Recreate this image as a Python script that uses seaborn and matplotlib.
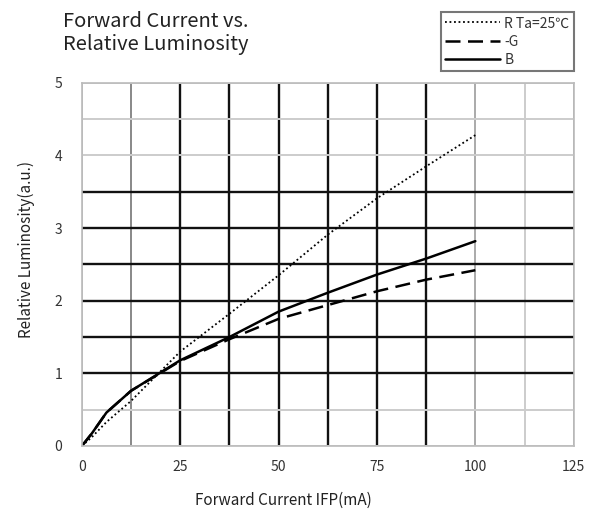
import matplotlib
matplotlib.use("Agg")
import matplotlib.pyplot as plt
import pandas as pd
import seaborn as sns

# values
current = [0, 2.5, 6.25, 12.5, 25, 37.5, 50, 62.5, 75, 87.5, 100]
lum_r = [0, 0.12, 0.33, 0.62, 1.30, 1.82, 2.35, 2.91, 3.41, 3.85, 4.28]
lum_g = [0, 0.17, 0.46, 0.76, 1.17, 1.47, 1.75, 1.94, 2.13, 2.29, 2.42]
lum_b = [0, 0.17, 0.46, 0.76, 1.18, 1.50, 1.85, 2.11, 2.36, 2.58, 2.82]
series_labels = ["R Ta=25\u2103", "-G", "B"]
x_ticks = [0, 12.5, 25, 37.5, 50, 62.5, 75, 87.5, 100, 112.5, 125]
y_ticks = [0, 0.5, 1, 1.5, 2, 2.5, 3, 3.5, 4, 4.5, 5]

sns.set_theme(style="white")
plt.rcParams['font.family'] = ['Noto Sans CJK JP', 'DejaVu Sans']

fig = plt.figure(figsize=(6.02, 5.21), dpi=100)
ax = fig.add_axes([0.136, 0.144, 0.817, 0.697])

df = pd.DataFrame({"I": current, "R": lum_r, "G": lum_g, "B": lum_b})
sns.lineplot(data=df, x="I", y="R", ax=ax, color="black", linestyle=(0, (1, 1.5)), linewidth=1.3, label=series_labels[0])
sns.lineplot(data=df, x="I", y="G", ax=ax, color="black", linestyle=(0, (6, 3)), linewidth=1.8, label=series_labels[1])
sns.lineplot(data=df, x="I", y="B", ax=ax, color="black", linestyle="-", linewidth=1.8, label=series_labels[2])

ax.set_xlim(0, 125)
ax.set_ylim(0, 5)
ax.set_xticks(x_ticks)
ax.set_xticklabels([f"{int(v)}" if v % 25 == 0 else "" for v in x_ticks])
ax.set_yticks(y_ticks)
ax.set_yticklabels([f"{int(v)}" if v % 1 == 0 else "" for v in y_ticks])
ax.tick_params(axis="both", length=0, labelsize=10, labelcolor="#333333")
ax.tick_params(axis="x", pad=10)
ax.tick_params(axis="y", pad=14)

ax.grid(True)
x_cols = ["#bbbbbb", "#888888", "#111111", "#111111", "#111111", "#111111",
          "#111111", "#111111", "#aaaaaa", "#cccccc", "#aaaaaa"]
y_cols = ["#cccccc", "#cccccc", "#111111", "#111111", "#111111", "#111111",
          "#111111", "#111111", "#cccccc", "#cccccc", "#cccccc"]
for line, c in zip(ax.get_xgridlines(), x_cols):
    line.set_color(c)
    line.set_linewidth(1.7 if c == "#111111" else 1.4)
for line, c in zip(ax.get_ygridlines(), y_cols):
    line.set_color(c)
    line.set_linewidth(1.7 if c == "#111111" else 1.4)
ax.set_axisbelow(True)
for s in ax.spines.values():
    s.set_color("#bbbbbb")
    s.set_linewidth(1.2)

ax.set_xlabel("Forward Current IFP(mA)", fontsize=11, color="#222222")
ax.xaxis.set_label_coords(0.41, -0.125)
ax.set_ylabel("Relative Luminosity(a.u.)", fontsize=11, color="#222222")
ax.yaxis.set_label_coords(-0.095, 0.54)

fig.text(0.105, 0.978, "Forward Current vs.\nRelative Luminosity", fontsize=14.5,
         color="#222222", ha="left", va="top", linespacing=1.1)

leg = ax.legend(loc="lower right", bbox_to_anchor=(1.0, 1.033), fontsize=10,
                frameon=True, fancybox=False, handlelength=4.0, handletextpad=0.3,
                borderpad=0.3, labelspacing=0.3, borderaxespad=0)
leg.get_frame().set_edgecolor("#555555")
leg.get_frame().set_linewidth(1.5)
for t in leg.get_texts():
    t.set_color("#333333")

fig.savefig("out.png", dpi=100)
